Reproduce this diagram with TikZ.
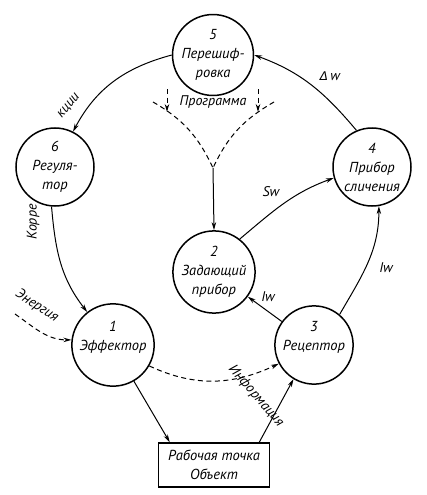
\documentclass[tikz,border=0pt]{standalone}
\usepackage{fontspec}
\setmainfont{PT Sans}
\newfontfamily\greekfont{DejaVu Sans}
\usepackage{tikz}
\usetikzlibrary{arrows.meta, positioning, calc}
\tikzset{
    unit/.style={
        circle, draw, line width=1.5pt,
        minimum size=78pt, inner sep=0pt,
        align=center, font=\itshape\fontsize{14.5}{19}\selectfont,
    },
    objbox/.style={
        rectangle, draw, line width=1.5pt,
        minimum width=111pt, minimum height=44pt,
        align=center, font=\itshape\fontsize{14.5}{19}\selectfont,
    },
    arr/.style={
        -{Stealth[length=8pt, width=4.5pt]}, line width=1pt
    },
    dasharr/.style={
        -{Stealth[length=8pt, width=4.5pt]}, line width=1pt,
        dash pattern=on 5pt off 3.5pt
    },
    dashline/.style={
        line width=1pt, dash pattern=on 5pt off 3.5pt
    },
    lbl/.style={
        font=\itshape\fontsize{14}{16}\selectfont, inner sep=1pt
    },
}

\begin{document}
\begin{tikzpicture}[x=1pt, y=-1pt]

    \useasboundingbox (0,0) rectangle (427,495);

    % -- units --
    \node[unit] (n5) at (213, 55)  {5\\Перешиф-\\ровка};
    \node[unit] (n6) at (55, 167)  {6\\Регуля-\\тор};
    \node[unit] (n4) at (372, 167) {4\\Прибор\\сличения};
    \node[unit] (n2) at (214, 272) {2\\Задающий\\прибор};
    \node[unit] (n1) at (113, 345) {1\\Эффектор\\~};
    \node[unit] (n3) at (314, 345) {3\\Рецептор\\~};

    % -- object --
    \node[objbox] (obj) at (214, 465) {Рабочая точка\\Объект};

    % -- free ends --
    \coordinate (fork)  at (213, 168);
    \coordinate (progL) at (153, 102);
    \coordinate (progR) at (274, 102);
    \coordinate (inL1)  at (167, 89);
    \coordinate (inL2)  at (167, 112);
    \coordinate (inR1)  at (258, 89);
    \coordinate (inR2)  at (258, 112);
    \coordinate (enrg)  at (15, 314);

    % -- main loop --
    \draw[arr] (n5.west) to[out=195, in=62] (n6.63);
    \draw[arr] (n4.113) to[out=130, in=-20] (n5.east);
    \draw[arr] (n6.265) to[out=-85, in=128] (n1.128);
    \draw[arr] (n3.50) to[out=60, in=-90] (n4.280);
    \draw[arr] (n2.52) to[out=40, in=200] (n4.196);
    \draw[arr] (n3) -- (n2);
    \draw[arr] (n1.-60) -- ([xshift=12pt]obj.north west);
    \draw[arr] ([xshift=-11pt]obj.north east) -- (n3.239);

    % -- dashed flows --
    \draw[dasharr] (n1.-30) to[out=-25, in=205] (n3.208);
    \draw[dasharr] (enrg) to[out=-35, in=180] (n1.173);

    % -- programme --
    \draw[dashline] (progL) to[out=-30, in=115] (fork);
    \draw[dashline] (progR) to[out=210, in=65] (fork);
    \draw[dasharr] (inL1) -- (inL2);
    \draw[dasharr] (inR1) -- (inR2);
    \draw[arr] (fork) -- (n2.north);

    % -- labels --
    \node[lbl] (tProg) at (213, 102) {Программа};
    \node[lbl, rotate=50] (tKc) at (69, 106) {кции};
    \node[lbl] (tDw) at (330, 76) {{\greekfont\fontsize{12}{14}\selectfont Δ}\,w};
    \node[lbl, rotate=90] (tKor) at (33, 222) {Корре};
    \node[lbl, rotate=-33] (tEn) at (37, 306) {Энергия};
    \node[lbl, rotate=-49] (tInf) at (256, 396) {Информация};
    \node[lbl] (tIw1) at (268, 297) {Iw};
    \node[lbl] (tIw2) at (386, 268) {Iw};
    \node[lbl] (tSw) at (271, 192) {Sw};

\end{tikzpicture}
\end{document}
